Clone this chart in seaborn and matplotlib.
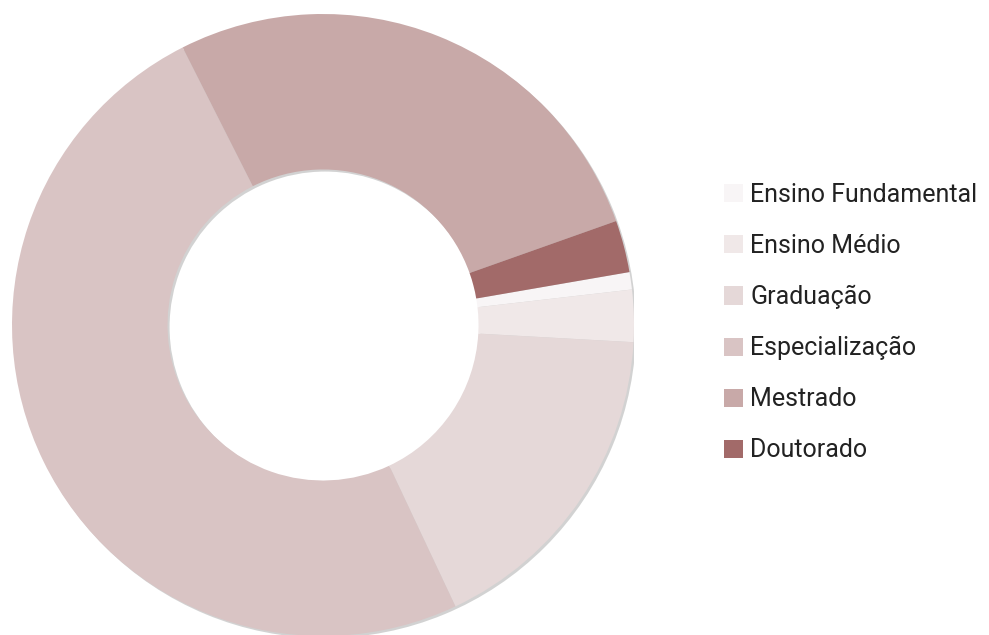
import matplotlib
matplotlib.use("Agg")
import matplotlib.pyplot as plt
import matplotlib.patheffects as pe
from matplotlib.patches import Wedge, Patch
import seaborn as sns

categories = ["Ensino Fundamental", "Ensino Médio", "Graduação",
              "Especialização", "Mestrado", "Doutorado"]
counts = [1, 3, 19, 55, 30, 3]
colors = ["#f8f5f6", "#f0e8e8", "#e5d8d8", "#d9c4c4", "#c8a9a8", "#a26a69"]

sns.set_theme(style="white")
plt.rcParams["font.family"] = ["Roboto", "DejaVu Sans"]

W, H = 989, 635
fig = plt.figure(figsize=(W / 100, H / 100), dpi=100)
cx, cy, r = 323, 325, 311
ax = fig.add_axes([(cx - r) / W, (H - cy - r) / H, 2 * r / W, 2 * r / H])

ring_width = 0.5

# soft drop shadow under the whole ring
shadow = Wedge((0, 0), 1.0, 0, 360, width=ring_width, facecolor="white",
               edgecolor="none", zorder=0)
shadow.set_path_effects([pe.SimplePatchShadow(offset=(1.5, -1.5),
                                              shadow_rgbFace="#808080", alpha=0.35)])
ax.add_patch(shadow)

wedges, _ = ax.pie(
    counts,
    colors=colors,
    startangle=9.8,
    counterclock=False,
    radius=1.0,
    wedgeprops=dict(width=ring_width, linewidth=0, zorder=1),
)
ax.set_xlim(-1, 1)
ax.set_ylim(-1, 1)
ax.set_aspect("equal")
ax.axis("off")

handles = [Patch(facecolor=c, edgecolor="none") for c in colors]
leg = fig.legend(
    handles, categories,
    loc="upper left",
    bbox_to_anchor=(714 / W, 1 - 173 / H),
    frameon=False,
    fontsize=18,
    handlelength=0.75,
    handleheight=0.75,
    handletextpad=0.3,
    labelspacing=1.08,
    borderaxespad=0,
)
for t in leg.get_texts():
    t.set_color("#222222")

fig.savefig("out.png", dpi=100, facecolor="white")
